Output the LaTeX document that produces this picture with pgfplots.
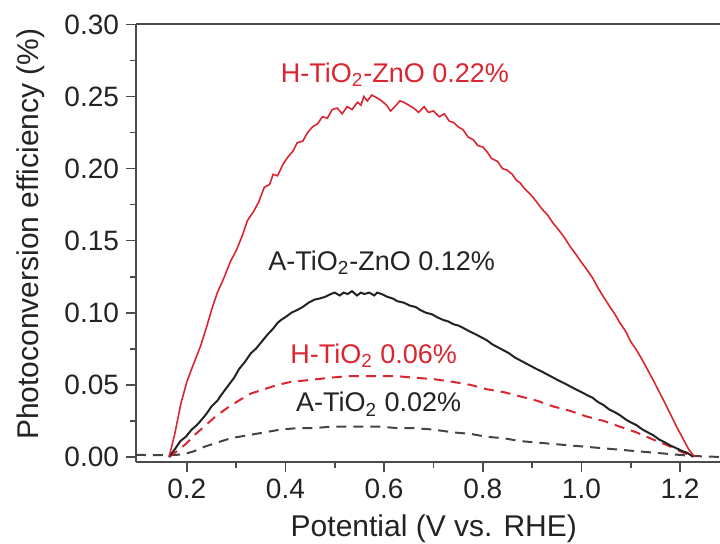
\documentclass[border=0pt]{standalone}
\usepackage{fontspec}
\setmainfont{Liberation Sans}
\usepackage{pgfplots}
\pgfplotsset{compat=1.18}
\definecolor{mred}{RGB}{218,38,48}
\definecolor{mblack}{RGB}{35,35,35}
\begin{document}
\begin{tikzpicture}
\useasboundingbox (-68pt,-40.5pt) rectangle (292pt,231pt);
\begin{axis}[
  at={(0,0)}, anchor=south west,
  scale only axis, width=292pt, height=219pt,
  xmin=0.097, xmax=1.281, ymin=-0.0035, ymax=0.3003,
  axis x line=box, axis y line=left,
  axis line style={-, black!70, line width=0.8pt},
  xtick={0.2,0.4,0.6,0.8,1.0,1.2},
  ytick={0,0.05,0.1,0.15,0.2,0.25,0.3},
  minor x tick num=1, minor y tick num=1,
  xtick pos=bottom, ytick pos=left,
  tick align=outside,
  major tick length=5pt, minor tick length=3pt,
  tick style={black!70, line width=0.8pt},
  xticklabel style={/pgf/number format/.cd, fixed, fixed zerofill, precision=1},
  yticklabel style={/pgf/number format/.cd, fixed, fixed zerofill, precision=2},
  /pgf/number format/assume math mode=true,
  ticklabel style={font=\fontsize{14}{16}\selectfont, text=mblack},
  scaled y ticks=false,
  xlabel={Potential (V vs. RHE)},
  ylabel={Photoconversion efficiency (\%)},
  label style={font=\fontsize{15}{17}\selectfont, text=mblack},
  xlabel style={at={(axis description cs:0.51,0)}, anchor=north, yshift=-23pt},
  ylabel style={at={(axis description cs:0,0.52)}, anchor=south, yshift=42pt},
]
% A-TiO2 (black dashed)
\addplot[mblack!85, line width=1pt, dash pattern=on 5pt off 3.5pt] coordinates {
(0.097,0.0015)(0.130,0.0012)(0.160,0.0012)(0.180,0.0015)(0.195,0.002)(0.215,0.004)
(0.235,0.007)(0.262,0.010)(0.289,0.013)(0.323,0.015)(0.357,0.017)(0.390,0.019)
(0.424,0.020)(0.458,0.020)(0.492,0.021)(0.525,0.021)(0.559,0.021)(0.593,0.021)
(0.627,0.020)(0.660,0.020)(0.700,0.019)(0.741,0.017)(0.775,0.016)(0.808,0.014)
(0.842,0.013)(0.876,0.011)(0.910,0.010)(0.943,0.009)(0.977,0.008)(1.011,0.007)
(1.045,0.006)(1.078,0.005)(1.112,0.004)(1.146,0.003)(1.180,0.002)(1.214,0.001)
(1.240,0.0005)(1.281,0)
};
% H-TiO2 (red dashed)
\addplot[mred, line width=1pt, dash pattern=on 5pt off 3.5pt] coordinates {
(0.164,0)(0.180,0.004)(0.198,0.009)(0.215,0.015)(0.235,0.021)(0.258,0.028)
(0.282,0.034)(0.305,0.039)(0.330,0.044)(0.357,0.047)(0.384,0.050)(0.410,0.052)
(0.438,0.053)(0.465,0.054)(0.492,0.055)(0.525,0.056)(0.559,0.056)(0.593,0.056)
(0.627,0.056)(0.660,0.055)(0.700,0.054)(0.741,0.052)(0.775,0.050)(0.808,0.047)
(0.842,0.045)(0.876,0.042)(0.910,0.039)(0.943,0.035)(0.977,0.032)(1.011,0.028)
(1.045,0.025)(1.078,0.021)(1.112,0.017)(1.146,0.012)(1.175,0.008)(1.200,0.004)
(1.227,0)
};
% A-TiO2-ZnO (black solid)
\addplot[mblack, line width=1pt] coordinates {
(0.164,0)(0.175,0.005)(0.187,0.011)(0.198,0.014)(0.210,0.019)(0.220,0.022)
(0.228,0.025)(0.240,0.030)(0.250,0.035)(0.262,0.039)(0.272,0.044)(0.285,0.050)
(0.296,0.055)(0.306,0.061)(0.318,0.066)(0.330,0.072)(0.340,0.075)(0.352,0.080)
(0.364,0.085)(0.375,0.089)(0.384,0.093)(0.391,0.095)(0.400,0.097)(0.412,0.100)
(0.424,0.102)(0.435,0.104)(0.447,0.107)(0.458,0.109)(0.470,0.110)(0.480,0.111)
(0.492,0.113)(0.500,0.114)(0.510,0.112)(0.518,0.114)(0.526,0.113)(0.535,0.115)
(0.545,0.112)(0.553,0.114)(0.560,0.113)(0.570,0.114)(0.580,0.112)(0.586,0.114)
(0.595,0.113)(0.607,0.111)(0.617,0.110)(0.627,0.108)(0.640,0.107)(0.652,0.105)
(0.664,0.104)(0.673,0.102)(0.685,0.100)(0.697,0.099)(0.707,0.097)(0.720,0.095)
(0.730,0.094)(0.741,0.092)(0.752,0.091)(0.763,0.089)(0.774,0.087)(0.786,0.085)
(0.797,0.083)(0.808,0.081)(0.820,0.078)(0.831,0.076)(0.842,0.074)(0.853,0.072)
(0.865,0.069)(0.876,0.067)(0.887,0.065)(0.898,0.063)(0.909,0.061)(0.921,0.059)
(0.932,0.057)(0.943,0.055)(0.954,0.053)(0.966,0.051)(0.977,0.049)(0.988,0.047)
(1.000,0.045)(1.011,0.043)(1.023,0.041)(1.034,0.038)(1.045,0.036)(1.056,0.033)
(1.068,0.031)(1.078,0.029)(1.090,0.026)(1.100,0.024)(1.112,0.022)(1.124,0.019)
(1.135,0.017)(1.146,0.015)(1.158,0.012)(1.170,0.010)(1.180,0.008)(1.193,0.006)
(1.205,0.004)(1.214,0.003)(1.227,0)
};
% H-TiO2-ZnO (red solid)
\addplot[mred, line width=0.8pt] coordinates {
(0.164,0)(0.175,0.015)(0.188,0.037)(0.200,0.052)(0.212,0.063)(0.228,0.077)
(0.240,0.090)(0.252,0.104)(0.262,0.114)(0.275,0.124)(0.289,0.136)(0.300,0.143)
(0.312,0.153)(0.323,0.164)(0.335,0.170)(0.346,0.177)(0.357,0.187)(0.368,0.189)
(0.375,0.196)(0.384,0.195)(0.395,0.203)(0.405,0.208)(0.415,0.212)(0.424,0.218)
(0.435,0.219)(0.445,0.225)(0.455,0.229)(0.465,0.231)(0.475,0.236)(0.485,0.235)
(0.495,0.241)(0.505,0.242)(0.515,0.238)(0.525,0.243)(0.535,0.241)(0.546,0.246)
(0.553,0.244)(0.559,0.250)(0.566,0.247)(0.575,0.251)(0.586,0.249)(0.595,0.247)
(0.605,0.244)(0.613,0.240)(0.622,0.243)(0.632,0.247)(0.640,0.246)(0.650,0.244)
(0.660,0.242)(0.670,0.239)(0.681,0.243)(0.690,0.239)(0.700,0.240)(0.712,0.236)
(0.722,0.238)(0.732,0.233)(0.741,0.232)(0.750,0.229)(0.760,0.227)(0.770,0.222)
(0.781,0.220)(0.790,0.216)(0.800,0.215)(0.808,0.212)(0.818,0.207)(0.830,0.205)
(0.840,0.200)(0.849,0.199)(0.860,0.196)(0.868,0.192)(0.876,0.190)(0.885,0.186)
(0.897,0.182)(0.909,0.177)(0.920,0.172)(0.931,0.168)(0.943,0.162)(0.955,0.157)
(0.966,0.152)(0.977,0.146)(0.990,0.140)(1.000,0.135)(1.011,0.130)(1.023,0.124)
(1.034,0.117)(1.045,0.111)(1.056,0.105)(1.068,0.099)(1.078,0.093)(1.090,0.087)
(1.100,0.080)(1.112,0.074)(1.124,0.067)(1.135,0.060)(1.146,0.053)(1.158,0.045)
(1.170,0.037)(1.180,0.030)(1.193,0.021)(1.207,0.012)(1.218,0.005)(1.230,0)
};
\node[anchor=base, text=mred, font=\fontsize{13.5}{15}\selectfont] at (axis cs:0.622,0.260) {H-TiO\textsubscript{2}-ZnO 0.22\%};
\node[anchor=base, text=mblack, font=\fontsize{13.5}{15}\selectfont] at (axis cs:0.595,0.1296) {A-TiO\textsubscript{2}-ZnO 0.12\%};
\node[anchor=base, text=mred, font=\fontsize{13.5}{15}\selectfont] at (axis cs:0.579,0.0651) {H-TiO\textsubscript{2} 0.06\%};
\node[anchor=base, text=mblack, font=\fontsize{13.5}{15}\selectfont] at (axis cs:0.589,0.0312) {A-TiO\textsubscript{2} 0.02\%};
\end{axis}
\end{tikzpicture}
\end{document}
